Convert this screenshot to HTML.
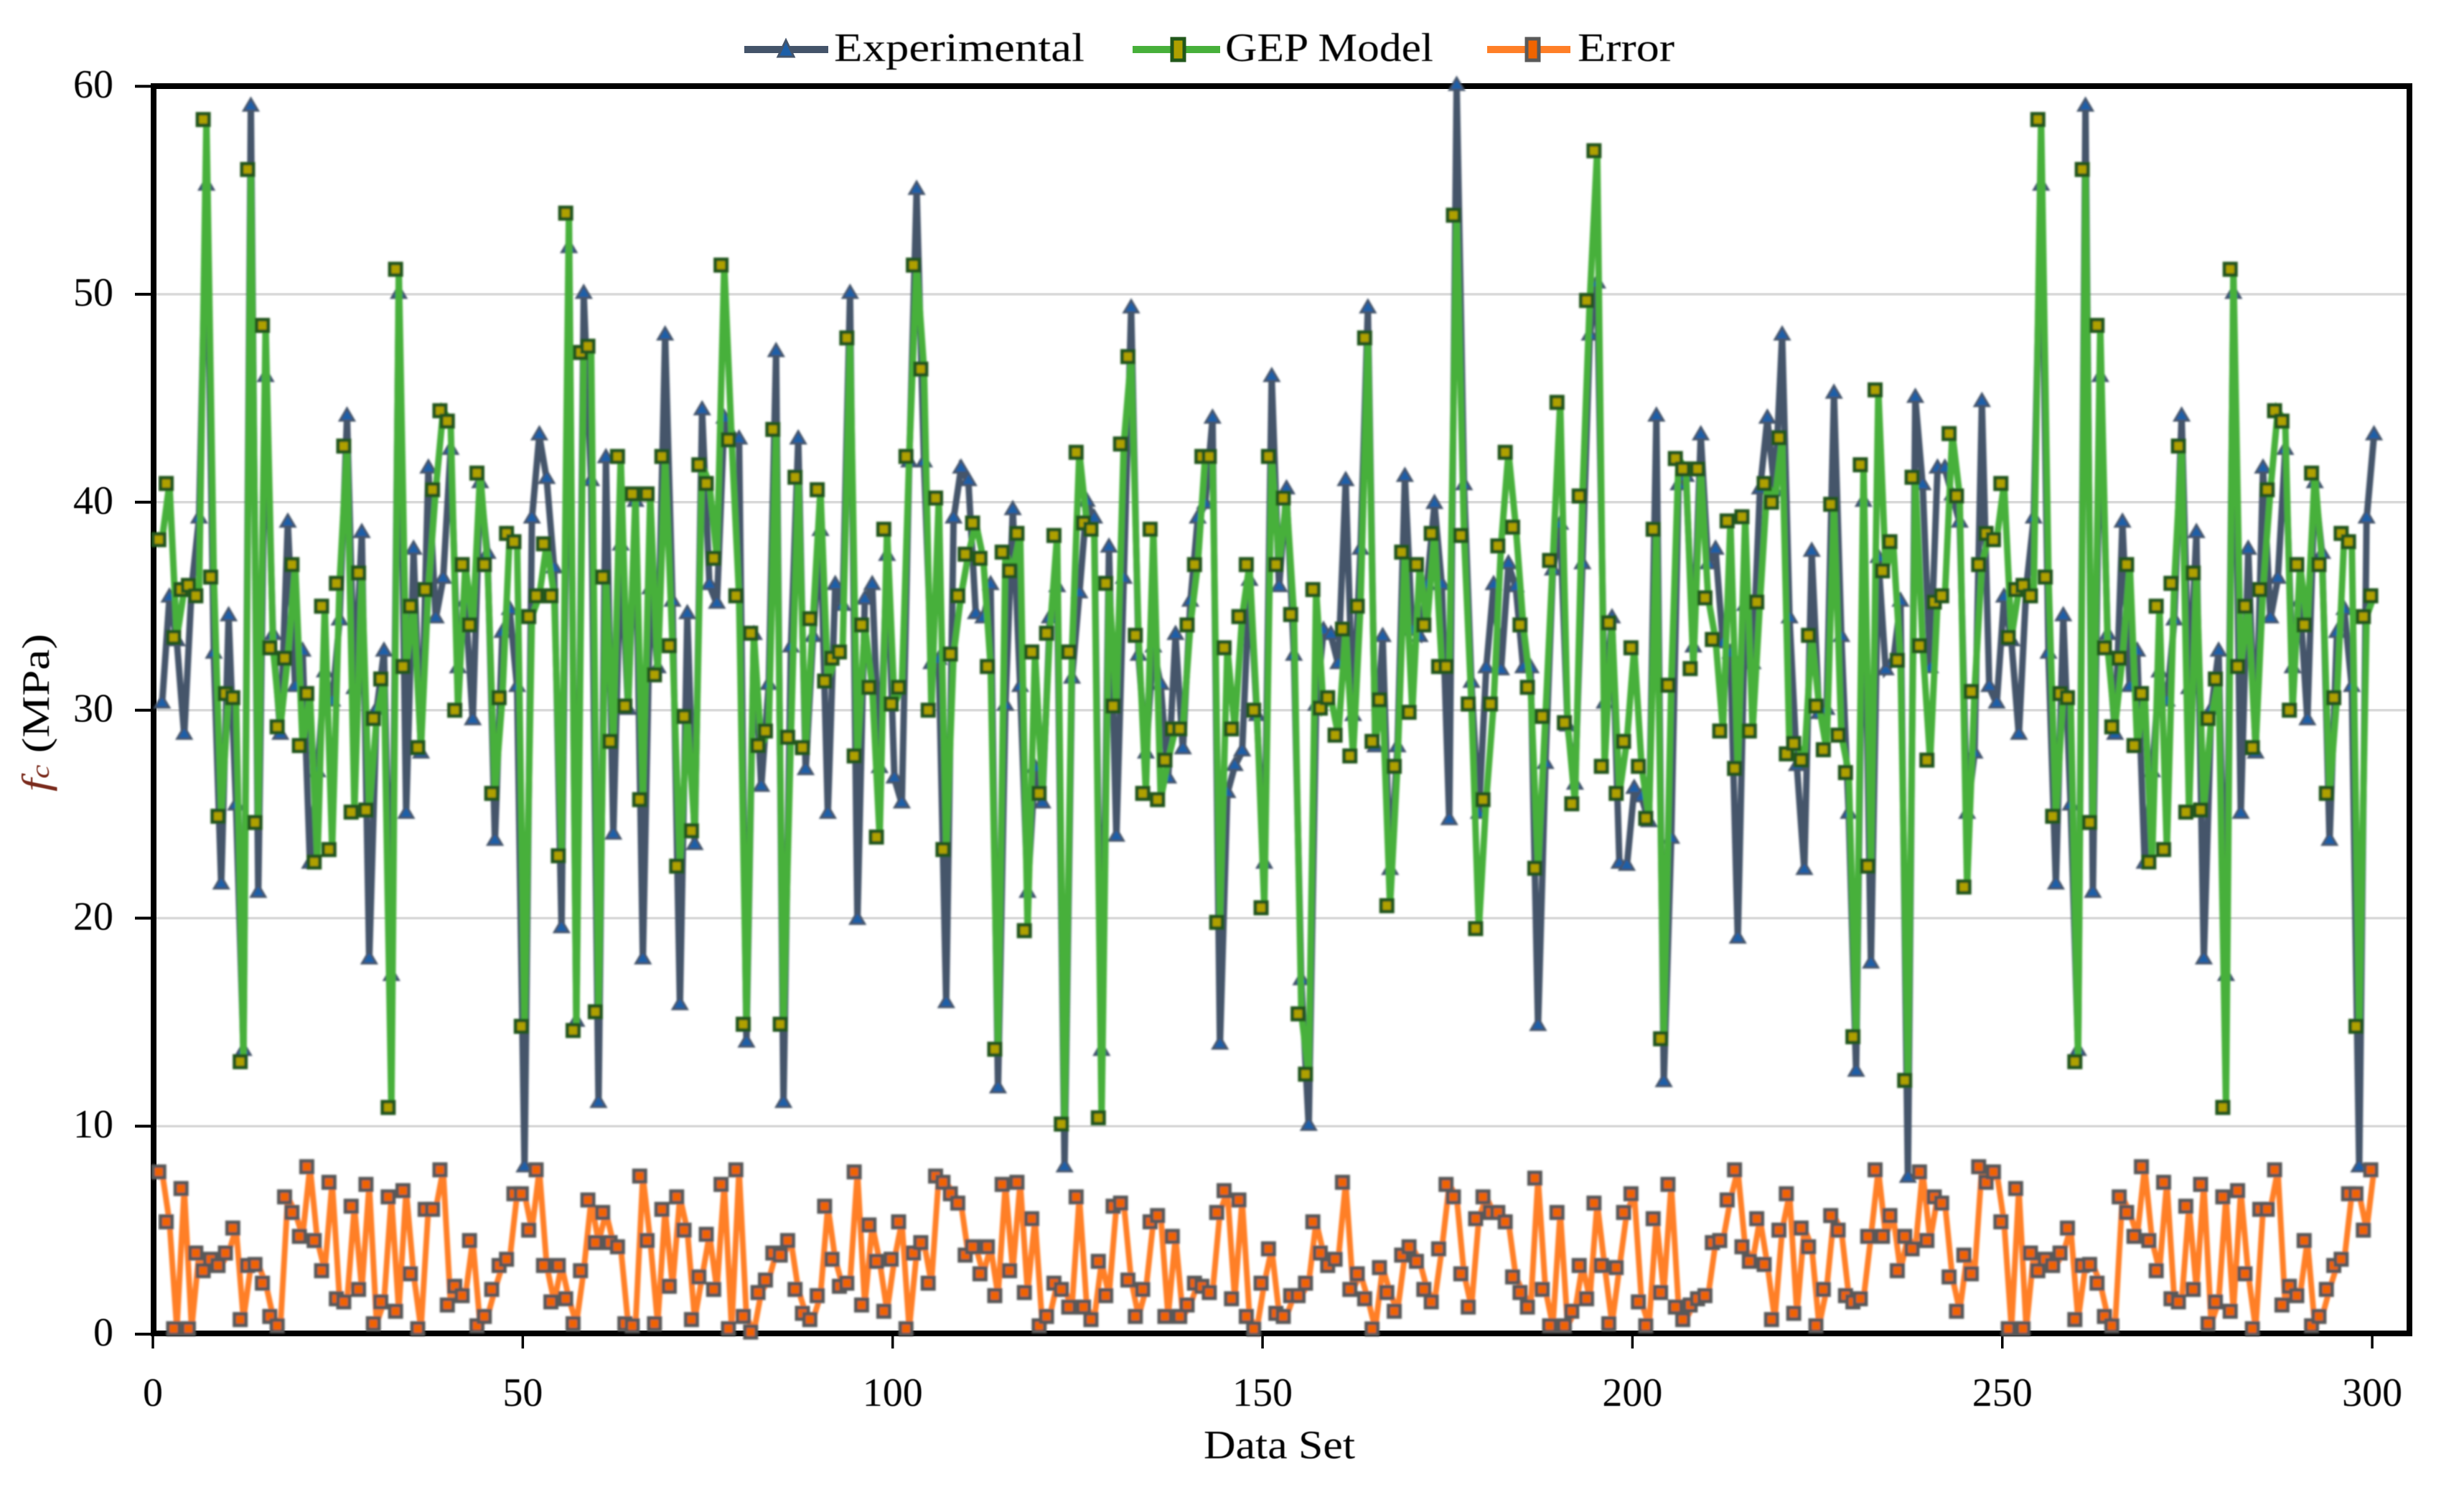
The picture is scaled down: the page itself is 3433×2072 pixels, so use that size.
<!DOCTYPE html>
<html lang="en">
<head>
<meta charset="utf-8">
<title>Experimental vs GEP Model</title>
<style>
html,body{margin:0;padding:0;background:#fff;}
svg{display:block;}
text{font-family:"Liberation Serif",serif;fill:#000;}
</style>
</head>
<body>
<svg id="chart" xmlns="http://www.w3.org/2000/svg" width="3433" height="2072" viewBox="0 0 3433 2072">
<defs>
<filter id="soft" x="-2%" y="-2%" width="104%" height="104%"><feGaussianBlur stdDeviation="1.4"/></filter>
<filter id="softText" x="-5%" y="-5%" width="110%" height="110%"><feGaussianBlur stdDeviation="0.55"/></filter>
</defs>
<rect x="0" y="0" width="3433" height="2072" fill="#ffffff"/>
<g id="grid"></g>
<g id="axes"></g>
<g id="series" filter="url(#soft)"></g>
<g id="labels" filter="url(#softText)"></g>
<text x="1677" y="2032" font-size="56" textLength="211" lengthAdjust="spacingAndGlyphs" filter="url(#softText)">Data Set</text>
<text transform="translate(68 1103) rotate(-90)" font-size="54" textLength="220" lengthAdjust="spacingAndGlyphs" filter="url(#softText)"><tspan font-style="italic" fill="#7a2a1a">f</tspan><tspan font-style="italic" font-size="36" fill="#7a2a1a">c</tspan><tspan> (MPa)</tspan></text>
<g id="legend">
  <g>
    <line x1="1037" y1="69" x2="1154" y2="69" stroke="#44546A" stroke-width="10"/>
    <polygon points="1095,56 1106,79 1084,79" fill="#1C5FA8" stroke="#44546A" stroke-width="3"/>
    <text x="1162" y="85" font-size="56" textLength="349" lengthAdjust="spacingAndGlyphs" filter="url(#softText)">Experimental</text>
  </g>
  <g>
    <line x1="1578" y1="69" x2="1700" y2="69" stroke="#47B03A" stroke-width="10"/>
    <rect x="1633" y="54" width="17" height="30" fill="#AFA000" stroke="#21571A" stroke-width="5"/>
    <text x="1707" y="85" font-size="56" textLength="290" lengthAdjust="spacingAndGlyphs" filter="url(#softText)">GEP Model</text>
  </g>
  <g>
    <line x1="2072" y1="69" x2="2188" y2="69" stroke="#FF7F27" stroke-width="10"/>
    <rect x="2127" y="54" width="17" height="30" fill="#F06400" stroke="#595959" stroke-width="5"/>
    <text x="2198" y="85" font-size="56" textLength="135" lengthAdjust="spacingAndGlyphs" filter="url(#softText)">Error</text>
  </g>
</g>
</svg>
<script>
const experimental = [
30.3,35.4,33.3,28.8,35.9,39.2,55.2,32.7,21.6,34.5,
25.4,13.6,59,21.2,46,33.6,28.8,39,31.1,32.8,
22.6,27,31.8,30.4,34.3,44.1,31,38.5,18,30,
32.8,17.2,50,25,37.7,27.9,41.6,34.4,36.3,42.5,
32,35.2,29.5,40.9,37.5,23.7,33.7,34.8,31.1,8,
39.2,43.2,41.1,36.8,19.5,52.2,15,50,41,11.1,
42.1,24,37.9,30,40,18,35.8,32,48,35.2,
15.8,34.6,23.5,44.4,36,35.1,44,43.2,43,14,
33.6,26.3,31.2,47.2,11.1,33,43,27.1,33.5,38.6,
25,36,35,50,19.9,35.3,36,27.2,37.4,26.7,
25.5,41.9,55,41.9,32.2,32.4,15.9,39.2,41.6,41,
34.6,34.4,36,11.8,30.2,39.6,31.1,21.2,27.2,25.5,
34.4,35.9,8,31.5,35.6,40,39.2,13.6,37.8,23.9,
36.3,49.3,32.6,27.9,33,31.2,26.7,33.6,28.1,35.2,
39.2,39.9,44,13.9,26,27.3,28,36.2,29.7,22.6,
46,35.9,40.6,32.6,17,10,30.2,33.8,33.6,32.2,
41,29.7,37.7,49.3,28.2,33.5,22.3,28.2,41.2,33.8,
33.5,36,39.9,36,24.7,60,40.8,31.3,25,32,
36,31.9,37,35.9,32,32,14.8,27.4,36.7,38.9,
29.2,26.4,37,48,50.5,30.3,34.4,22.6,22.5,26.2,
25.8,24.6,44.1,12.1,23.8,40.8,41.2,33,43.2,37,
37.7,33.2,32.7,19,35,32.2,40.6,44,40.5,48,
34.4,27.3,22.3,37.6,29.8,30,45.2,33.5,25,12.6,
40,17.8,37.3,31.9,32.3,35.2,7.5,45,40.8,32,
41.6,41.6,40.3,39,25,27.9,44.8,31.1,
30.3,35.4,33.3,28.8,35.9,39.2,55.2,32.7,21.6,34.5,
25.4,13.6,59,21.2,46,33.6,28.8,39,31.1,32.8,
22.6,27,31.8,30.4,34.3,44.1,31,38.5,18,30,
32.8,17.2,50,25,37.7,27.9,41.6,34.4,36.3,42.5,
32,35.2,29.5,40.9,37.5,23.7,33.7,34.8,31.1,8,
39.2,43.2
];
const gepModel = [
38.2,40.9,33.5,35.8,36,35.5,58.4,36.4,24.9,30.8,
30.6,13.1,56,24.6,48.5,33,29.2,32.5,37,28.3,
30.8,22.7,35,23.3,36.1,42.7,25.1,36.6,25.2,29.6,
31.5,10.9,51.2,32.1,35,28.2,35.8,40.6,44.4,43.9,
30,37,34.1,41.4,37,26,30.6,38.5,38.1,14.8,
34.5,35.5,38,35.5,23,53.9,14.6,47.2,47.5,15.5,
36.4,28.5,42.2,30.2,40.4,25.7,40.4,31.7,42.2,33.1,
22.5,29.7,24.2,41.8,40.9,37.3,51.4,43,35.5,14.9,
33.7,28.3,29,43.5,14.9,28.7,41.2,28.2,34.4,40.6,
31.4,32.5,32.8,47.9,27.8,34.1,31.1,23.9,38.7,30.3,
31.1,42.2,51.4,46.4,30,40.2,23.3,32.7,35.5,37.5,
39,37.3,32.1,13.7,37.6,36.7,38.5,19.4,32.8,26,
33.7,38.4,10.1,32.8,42.4,39,38.7,10.4,36.1,30.2,
42.8,47,33.6,26,38.7,25.7,27.6,29.1,29.1,34.1,
37,42.2,42.2,19.8,33,29.1,34.5,37,30,20.5,
42.2,37,40.2,34.6,15.4,12.5,35.8,30.1,30.6,28.8,
33.9,27.8,35,47.9,28.5,30.5,20.6,27.3,37.6,29.9,
37,34.1,38.5,32.1,32.1,53.8,38.4,30.3,19.5,25.7,
30.3,37.9,42.4,38.8,34.1,31.1,22.4,29.7,37.2,44.8,
29.4,25.5,40.3,49.7,56.9,27.3,34.2,26,28.5,33,
27.3,24.8,38.7,14.2,31.2,42.1,41.6,32,41.6,35.4,
33.4,29,39.1,27.2,39.3,29,35.2,40.9,40,43.1,
27.9,28.4,27.6,33.6,30.2,28.1,39.9,28.8,27,14.3,
41.8,22.5,45.4,36.7,38.1,32.4,12.2,41.2,33.1,27.6,
35.2,35.5,43.3,40.3,21.5,30.9,37,38.5,
38.2,40.9,33.5,35.8,36,35.5,58.4,36.4,24.9,30.8,
30.6,13.1,56,24.6,48.5,33,29.2,32.5,37,28.3,
30.8,22.7,35,23.3,36.1,42.7,25.1,36.6,25.2,29.6,
31.5,10.9,51.2,32.1,35,28.2,35.8,40.6,44.4,43.9,
30,37,34.1,41.4,37,26,30.6,38.5,38.1,14.8,
34.5,35.5
];
const errorValues = [
7.8,5.4,0.26,7,0.26,3.9,3.05,3.6,3.3,3.9,
5.1,0.7,3.3,3.35,2.45,0.85,0.4,6.6,5.85,4.7,
8.05,4.5,3.05,7.3,1.7,1.55,6.15,2.15,7.2,0.5,
1.55,6.6,1.1,6.9,2.9,0.26,6,6,7.9,1.4,
2.3,1.85,4.5,0.4,0.85,2.15,3.3,3.6,6.75,6.75,
5,7.9,3.3,1.55,3.3,1.7,0.5,3.05,6.45,4.4,
5.85,4.4,4.2,0.5,0.4,7.6,4.5,0.5,6,2.3,
6.6,5,0.7,2.75,4.8,2.15,7.2,0.26,7.9,0.85,
0.1,2,2.6,3.9,3.8,4.5,2.15,1,0.7,1.85,
6.15,3.6,2.3,2.45,7.8,1.4,5.25,3.5,1.1,3.6,
5.4,0.26,3.9,4.4,2.45,7.6,7.3,6.75,6.3,3.8,
4.2,2.9,4.2,1.85,7.2,3.05,7.3,2,5.55,0.4,
0.85,2.45,2.15,1.3,6.6,1.3,0.7,3.5,1.85,6.15,
6.3,2.6,0.85,2.15,5.4,5.7,0.85,4.7,0.85,1.4,
2.45,2.3,2,5.85,6.9,1.7,6.45,0.85,0.25,2.45,
4.1,1,0.85,1.85,1.85,2.45,5.4,3.9,3.3,3.6,
7.3,2.15,2.9,1.7,0.25,3.2,2,1.1,3.8,4.2,
3.5,2.15,1.55,4.1,7.2,6.6,2.9,1.3,5.55,6.6,
5.85,5.85,5.4,2.75,2,1.3,7.5,2.15,0.4,5.85,
0.4,1.1,3.3,1.7,6.3,3.3,0.5,3.2,5.85,6.75,
1.55,0.4,5.55,2,7.2,1.3,0.7,1.4,1.7,1.85,
4.4,4.5,6.45,7.9,4.2,3.5,5.55,3.35,0.7,5,
6.75,1,5.1,4.2,0.4,2.15,5.7,5,1.85,1.55,
1.7,4.7,7.9,4.7,5.7,3.05,4.7,4.1,7.8,4.5,
6.6,6.3,2.75,1.1,3.8,2.9,8.05,7.3,
7.8,5.4,0.26,7,0.26,3.9,3.05,3.6,3.3,3.9,
5.1,0.7,3.3,3.35,2.45,0.85,0.4,6.6,5.85,4.7,
8.05,4.5,3.05,7.3,1.7,1.55,6.15,2.15,7.2,0.5,
1.55,6.6,1.1,6.9,2.9,0.26,6,6,7.9,1.4,
2.3,1.85,4.5,0.4,0.85,2.15,3.3,3.6,6.75,6.75,
5,7.9
];
const xTickLabels = [0,50,100,150,200,250,300];
const yTickLabels = [0,10,20,30,40,50,60];

const NS = 'http://www.w3.org/2000/svg';
function xAxis(v){ return 213 + 10.307 * v; }
function yAxis(v){ return 1859 - 28.98 * v; }
const pointOffset = 1.24;
function make(tag, attrs, parent){
  const el = document.createElementNS(NS, tag);
  for (const k in attrs) el.setAttribute(k, attrs[k]);
  parent.appendChild(el);
  return el;
}
const gridG = document.getElementById('grid');
const axesG = document.getElementById('axes');
const seriesG = document.getElementById('series');
const labelsG = document.getElementById('labels');

yTickLabels.forEach(function(t){
  const y = yAxis(t);
  if (t > 0 && t < 60) {
    const g = make('line', {x1:218, x2:3353, y1:y, y2:y, stroke:'#D9D9D9', 'stroke-width':3.5}, gridG);
    
    
  }
  const tk = make('line', {x1:188, x2:214, y1:y, y2:y, stroke:'#000', 'stroke-width':4}, axesG);
  
  
  const lb = make('text', {x:158, y:y + 16, 'font-size':56, 'text-anchor':'end'}, labelsG);
  
  
  lb.textContent = String(t);
});
xTickLabels.forEach(function(t){
  const x = xAxis(t);
  const tk = make('line', {x1:x, x2:x, y1:1858, y2:1879, stroke:'#000', 'stroke-width':3.5}, axesG);
  
  
  const lb = make('text', {x:x, y:1959, 'font-size':56, 'text-anchor':'middle'}, labelsG);
  
  
  lb.textContent = String(t);
});
const frame = make('rect', {x:214, y:120, width:3143, height:1738, fill:'none', stroke:'#000', 'stroke-width':8}, axesG);



function linePoints(values){
  return values.map(function(v, i){
    return xAxis(i + pointOffset).toFixed(1) + ',' + yAxis(v).toFixed(1);
  }).join(' ');
}
// Experimental series
const expLine = make('polyline', {points:linePoints(experimental), fill:'none', stroke:'#44546A', 'stroke-width':9, 'stroke-linejoin':'miter', 'stroke-miterlimit':3}, seriesG);


experimental.forEach(function(v, i){
  const x = xAxis(i + pointOffset), y = yAxis(v);
  const m = make('polygon', {points:(x)+','+(y-12)+' '+(x+10)+','+(y+5)+' '+(x-10)+','+(y+5), fill:'#1C5FA8', stroke:'#44546A', 'stroke-width':3}, seriesG);
  
  
});
// GEP model series
const gepLine = make('polyline', {points:linePoints(gepModel), fill:'none', stroke:'#47B03A', 'stroke-width':9, 'stroke-linejoin':'miter', 'stroke-miterlimit':3}, seriesG);


gepModel.forEach(function(v, i){
  const x = xAxis(i + pointOffset) - 4.5, y = yAxis(v);
  const m = make('rect', {x:x-8, y:y-8, width:16, height:16, fill:'#AFA000', stroke:'#21571A', 'stroke-width':5}, seriesG);
  
  
});
// Error series
const errLine = make('polyline', {points:linePoints(errorValues), fill:'none', stroke:'#FF7F27', 'stroke-width':8, 'stroke-linejoin':'miter', 'stroke-miterlimit':3}, seriesG);


errorValues.forEach(function(v, i){
  const x = xAxis(i + pointOffset) - 4.5, y = yAxis(v);
  const m = make('rect', {x:x-8, y:y-8, width:16, height:16, fill:'#F06400', stroke:'#595959', 'stroke-width':5}, seriesG);
  
  
});
</script>
</body>
</html>
